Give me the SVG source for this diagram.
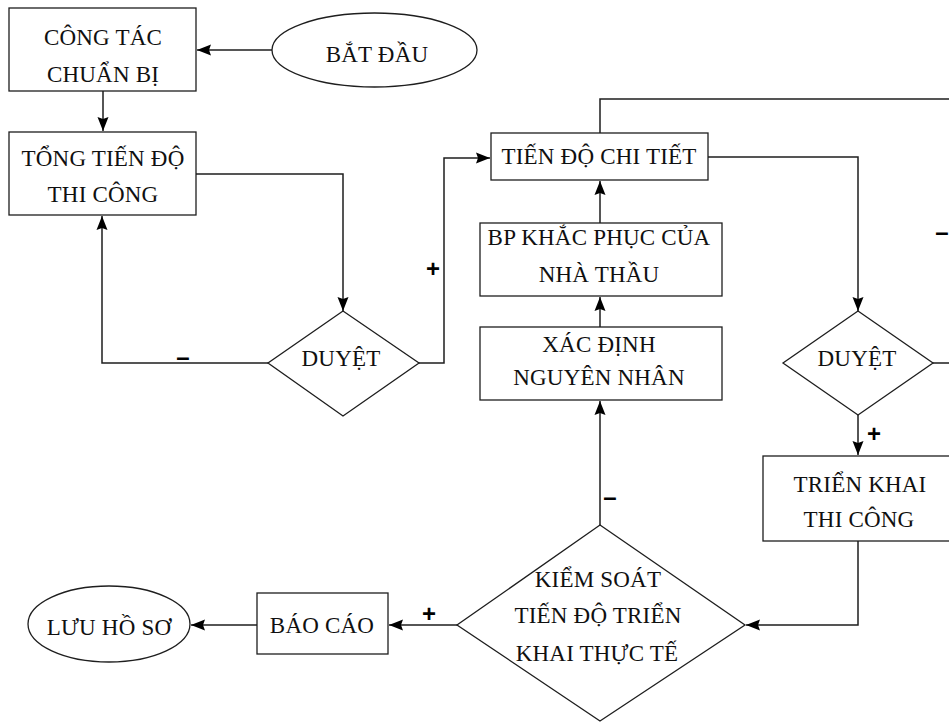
<svg xmlns="http://www.w3.org/2000/svg" width="949" height="722" viewBox="0 0 949 722">
  <style>
    .shape { fill: #ffffff; stroke: #1e1e1e; stroke-width: 1.3; }
    .wire { fill: none; stroke: #1e1e1e; stroke-width: 1.5; }
    .label { font-family: "Liberation Serif", "Times New Roman", serif; font-size: 23px; letter-spacing: 0.2px; fill: #101010; text-anchor: middle; }
    .sign { font-family: "Liberation Sans", Arial, sans-serif; font-size: 24px; font-weight: bold; fill: #000000; text-anchor: middle; }
  </style>
  <defs>
    <marker id="arrow" markerUnits="userSpaceOnUse" markerWidth="15" markerHeight="12" refX="14" refY="6" orient="auto">
      <path d="M0,0.5 L14,6 L0,11.5 L2,6 z" fill="#000000"/>
    </marker>
  </defs>

  <rect width="949" height="722" fill="#ffffff"/>

  <!-- connectors -->
  <g id="connectors">
    <path class="wire" d="M272,50 H197" marker-end="url(#arrow)"/>
    <path class="wire" d="M103,91 V131" marker-end="url(#arrow)"/>
    <path class="wire" d="M196,174 H343 V311" marker-end="url(#arrow)"/>
    <path class="wire" d="M268,363 H102 V216" marker-end="url(#arrow)"/>
    <path class="wire" d="M419,363 H444 V158 H490" marker-end="url(#arrow)"/>
    <path class="wire" d="M708,157 H858 V311" marker-end="url(#arrow)"/>
    <path class="wire" d="M933,363 H960 V99 H600 V133"/>
    <path class="wire" d="M858,415 V455" marker-end="url(#arrow)"/>
    <path class="wire" d="M858,541 V625 H746" marker-end="url(#arrow)"/>
    <path class="wire" d="M600,525 V401" marker-end="url(#arrow)"/>
    <path class="wire" d="M600,327 V297" marker-end="url(#arrow)"/>
    <path class="wire" d="M600,223 V181" marker-end="url(#arrow)"/>
    <path class="wire" d="M457,625 H389" marker-end="url(#arrow)"/>
    <path class="wire" d="M257,625 H191" marker-end="url(#arrow)"/>

    <text class="sign" x="183" y="365">–</text>
    <text class="sign" x="433" y="277">+</text>
    <text class="sign" x="942" y="240">–</text>
    <text class="sign" x="874" y="442">+</text>
    <text class="sign" x="610" y="505">–</text>
    <text class="sign" x="429" y="622">+</text>
  </g>

  <g id="bat-dau">
    <ellipse class="shape" cx="374.5" cy="50" rx="102.5" ry="37"/>
    <text class="label" x="377" y="62">BẮT ĐẦU</text>
  </g>

  <g id="cong-tac-chuan-bi">
    <rect class="shape" x="9" y="8" width="187" height="83"/>
    <text class="label" x="103" y="45">CÔNG TÁC</text>
    <text class="label" x="103" y="82">CHUẨN BỊ</text>
  </g>

  <g id="tong-tien-do">
    <rect class="shape" x="9" y="132" width="187" height="83"/>
    <text class="label" x="103" y="166">TỔNG TIẾN ĐỘ</text>
    <text class="label" x="103" y="202">THI CÔNG</text>
  </g>

  <g id="duyet-1">
    <polygon class="shape" points="343,311 419,363 343,416 268,363"/>
    <text class="label" x="341" y="366">DUYỆT</text>
  </g>

  <g id="tien-do-chi-tiet">
    <rect class="shape" x="491" y="133" width="217" height="47"/>
    <text class="label" x="599" y="164">TIẾN ĐỘ CHI TIẾT</text>
  </g>

  <g id="bp-khac-phuc">
    <rect class="shape" x="480" y="223" width="242" height="73"/>
    <text class="label" x="599" y="245">BP KHẮC PHỤC CỦA</text>
    <text class="label" x="599" y="282">NHÀ THẦU</text>
  </g>

  <g id="xac-dinh-nguyen-nhan">
    <rect class="shape" x="480" y="327" width="242" height="73"/>
    <text class="label" x="599" y="352">XÁC ĐỊNH</text>
    <text class="label" x="599" y="385">NGUYÊN NHÂN</text>
  </g>

  <g id="duyet-2">
    <polygon class="shape" points="858,311 933,363 858,415 783,363"/>
    <text class="label" x="857" y="366">DUYỆT</text>
  </g>

  <g id="trien-khai-thi-cong">
    <rect class="shape" x="763" y="456" width="190" height="85"/>
    <text class="label" x="860" y="492">TRIỂN KHAI</text>
    <text class="label" x="859" y="527">THI CÔNG</text>
  </g>

  <g id="kiem-soat">
    <polygon class="shape" points="600,525 745,625 600,721 457,625"/>
    <text class="label" x="598" y="587">KIỂM SOÁT</text>
    <text class="label" x="598" y="623">TIẾN ĐỘ TRIỂN</text>
    <text class="label" x="597" y="661">KHAI THỰC TẾ</text>
  </g>

  <g id="bao-cao">
    <rect class="shape" x="257" y="593" width="131" height="61"/>
    <text class="label" x="322" y="633">BÁO CÁO</text>
  </g>

  <g id="luu-ho-so">
    <ellipse class="shape" cx="109" cy="624" rx="81" ry="38"/>
    <text class="label" x="109" y="635">LƯU HỒ SƠ</text>
  </g>
</svg>
